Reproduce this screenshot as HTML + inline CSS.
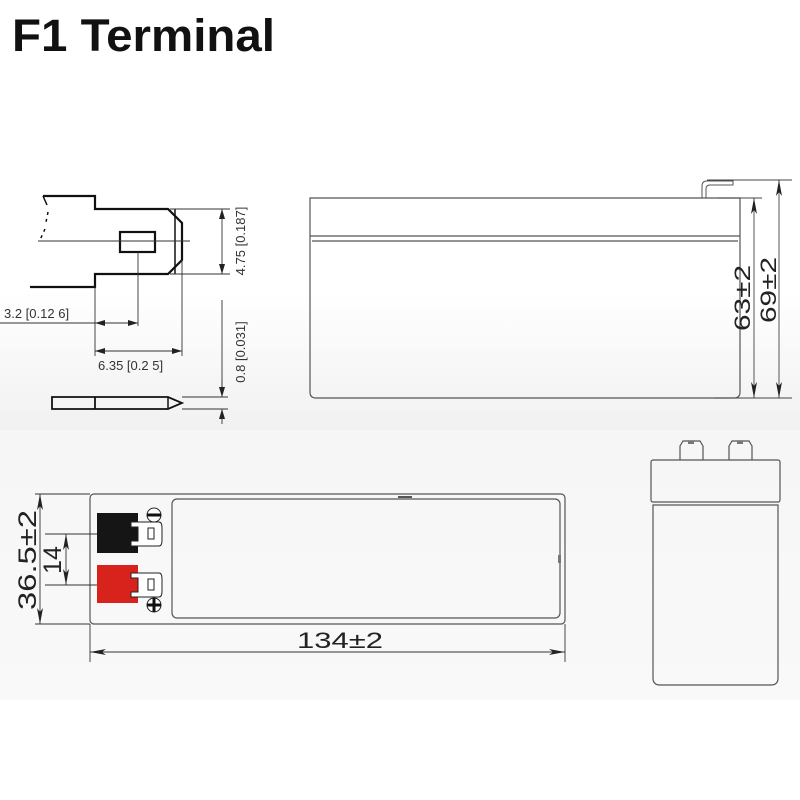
<!DOCTYPE html>
<html><head><meta charset="utf-8"><style>
body{margin:0;background:#fff}
svg{display:block;font-family:"Liberation Sans","DejaVu Sans",sans-serif}
</style></head><body>
<svg width="800" height="800" viewBox="0 0 800 800" xmlns="http://www.w3.org/2000/svg">
<defs>
<linearGradient id="g1" x1="0" y1="0" x2="0" y2="1"><stop offset="0" stop-color="#fff"/><stop offset="1" stop-color="#f1f1f1"/></linearGradient>
<linearGradient id="g2" x1="0" y1="0" x2="0" y2="1"><stop offset="0" stop-color="#f6f6f6"/><stop offset="1" stop-color="#f9f9f9"/></linearGradient>
<marker id="a" viewBox="0 0 10 6" refX="10" refY="3" markerWidth="10" markerHeight="6" orient="auto-start-reverse" markerUnits="userSpaceOnUse"><path d="M0,0L10,3L0,6z" fill="#222"/></marker>
<marker id="b" viewBox="0 0 16 6" refX="16" refY="3" markerWidth="16" markerHeight="6" orient="auto-start-reverse" markerUnits="userSpaceOnUse"><path d="M0,0L16,3L0,6L4,3z" fill="#222"/></marker>
</defs>
<rect x="0" y="290" width="800" height="140" fill="url(#g1)"/>
<rect x="0" y="430" width="800" height="270" fill="url(#g2)"/>
<text x="12" y="51" font-size="45" font-weight="bold" fill="#111" textLength="263" lengthAdjust="spacingAndGlyphs">F1 Terminal</text>

<!-- terminal detail -->
<g fill="none" stroke="#111" stroke-width="2.2">
<path d="M43,196H95V209H168L182,223V260L168,274H95V287H30"/>
<line x1="175" y1="209" x2="175" y2="274" stroke-width="1.5"/>
<rect x="120" y="232" width="35" height="20"/>
<path d="M52,397H168L182,403L168,409H52Z" stroke-width="1.8"/>
<line x1="95" y1="397" x2="95" y2="409" stroke-width="1.8"/>
<line x1="168" y1="397" x2="168" y2="409" stroke-width="1.5"/>
</g>
<path d="M43,196L47,205" stroke="#111" stroke-width="1.5" fill="none"/>
<path d="M48,212L46,222M45,229L40,240" stroke="#111" stroke-width="1.5" stroke-dasharray="3,4" fill="none"/>
<g stroke="#333" stroke-width="0.9" fill="none">
<line x1="38" y1="241" x2="190" y2="241"/>
<line x1="170" y1="209" x2="230" y2="209"/><line x1="170" y1="274" x2="230" y2="274"/>
<line x1="222" y1="209" x2="222" y2="274" marker-start="url(#a)" marker-end="url(#a)"/>
<line x1="138" y1="252" x2="138" y2="326"/>
<line x1="0" y1="323" x2="95" y2="323"/>
<line x1="95" y1="323" x2="138" y2="323" marker-start="url(#a)" marker-end="url(#a)"/>
<line x1="95" y1="287" x2="95" y2="356"/><line x1="182" y1="260" x2="182" y2="356"/>
<line x1="95" y1="351" x2="182" y2="351" marker-start="url(#a)" marker-end="url(#a)"/>
<line x1="222" y1="300" x2="222" y2="390"/>
<line x1="222" y1="380" x2="222" y2="397" marker-end="url(#a)"/>
<line x1="222" y1="424" x2="222" y2="409" marker-end="url(#a)"/>
<line x1="182" y1="397" x2="228" y2="397"/><line x1="182" y1="409" x2="228" y2="409"/>
</g>
<g font-size="13" fill="#333">
<text transform="translate(245,241) rotate(-90)" text-anchor="middle">4.75 [0.187]</text>
<text transform="translate(245,352) rotate(-90)" text-anchor="middle">0.8 [0.031]</text>
<text x="4" y="318">3.2 [0.12  6]</text>
<text x="98" y="370">6.35 [0.2  5]</text>
</g>

<!-- side view -->
<g fill="none" stroke="#555" stroke-width="1.2">
<path d="M312,198H740V392Q740,398 734,398H316Q310,398 310,392V198Z"/>
<line x1="310" y1="236" x2="740" y2="236"/>
<line x1="312" y1="241" x2="738" y2="241"/>
<path d="M702,198V186Q702,181 707,181H733V185H710Q706,185 706,189V198" stroke-width="1"/>
</g>
<g stroke="#444" stroke-width="0.9" fill="none">
<line x1="707" y1="180" x2="792" y2="180"/>
<line x1="718" y1="198" x2="762" y2="198"/>
<line x1="714" y1="398" x2="792" y2="398"/>
<line x1="754" y1="198" x2="754" y2="398" marker-start="url(#b)" marker-end="url(#b)"/>
<line x1="779" y1="180" x2="779" y2="398" marker-start="url(#b)" marker-end="url(#b)"/>
</g>
<g font-size="22" fill="#222">
<text transform="translate(750,298) rotate(-90)" text-anchor="middle" textLength="66" lengthAdjust="spacingAndGlyphs">63±2</text>
<text transform="translate(776,290) rotate(-90)" text-anchor="middle" textLength="66" lengthAdjust="spacingAndGlyphs">69±2</text>
</g>

<!-- top view -->
<g fill="none" stroke="#555" stroke-width="1.2">
<rect x="90" y="494" width="475" height="130" rx="4"/>
<rect x="172" y="499" width="388" height="119" rx="5"/>
</g>
<rect x="398" y="496" width="14" height="2" fill="#555"/>
<rect x="558" y="555" width="3" height="8" fill="#777"/>
<rect x="97" y="513" width="41" height="40" fill="#151515"/>
<rect x="97" y="565" width="41" height="38" fill="#d8231c"/>
<g fill="#fff" stroke="#222" stroke-width="1">
<path d="M131,522H159Q162,522 162,528V540Q162,546 159,546H131V541H138V527H131Z"/>
<path d="M131,573H159Q162,573 162,579V591Q162,597 159,597H131V592H138V578H131Z"/>
<rect x="148" y="528" width="6" height="11"/>
<rect x="148" y="579" width="6" height="11"/>
<circle cx="154" cy="515" r="7"/>
<circle cx="154" cy="605" r="7"/>
</g>
<line x1="147" y1="515" x2="161" y2="515" stroke="#111" stroke-width="3"/>
<line x1="147" y1="605" x2="161" y2="605" stroke="#111" stroke-width="3"/>
<line x1="154" y1="598" x2="154" y2="612" stroke="#111" stroke-width="3"/>
<g stroke="#333" stroke-width="0.9" fill="none">
<line x1="35" y1="494" x2="90" y2="494"/><line x1="35" y1="624" x2="90" y2="624"/>
<line x1="40" y1="494" x2="40" y2="624" marker-start="url(#b)" marker-end="url(#b)"/>
<line x1="45" y1="534" x2="97" y2="534"/><line x1="45" y1="585" x2="97" y2="585"/>
<line x1="66" y1="534" x2="66" y2="585" marker-start="url(#b)" marker-end="url(#b)"/>
<line x1="90" y1="624" x2="90" y2="662"/><line x1="565" y1="624" x2="565" y2="662"/>
<line x1="90" y1="652" x2="565" y2="652" marker-start="url(#b)" marker-end="url(#b)"/>
</g>
<g font-size="25" fill="#222">
<text transform="translate(36,560) rotate(-90)" text-anchor="middle" textLength="100" lengthAdjust="spacingAndGlyphs">36.5±2</text>
<text transform="translate(61,560) rotate(-90)" text-anchor="middle">14</text>
</g>
<text x="340" y="648" font-size="22" fill="#222" text-anchor="middle" textLength="86" lengthAdjust="spacingAndGlyphs">134±2</text>

<!-- end view -->
<g fill="none" stroke="#555" stroke-width="1.2">
<rect x="651" y="460" width="129" height="42" rx="2"/>
<path d="M653,505H778V678Q778,685 771,685H660Q653,685 653,678Z"/>
<path d="M680,460V446L683,441H700L703,446V460"/>
<path d="M729,460V446L732,441H749L752,446V460"/>
</g>
<rect x="688" y="441" width="6" height="3" fill="#777"/>
<rect x="737" y="441" width="6" height="3" fill="#777"/>
</svg>
</body></html>
